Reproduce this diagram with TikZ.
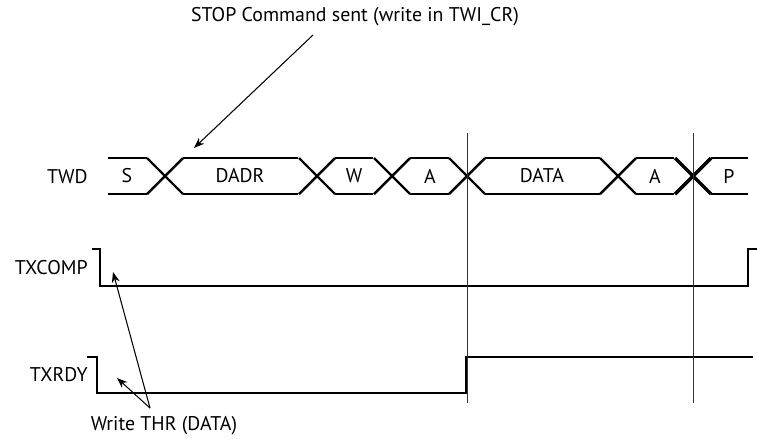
\documentclass[tikz,border=0pt]{standalone}
\usepackage{fontspec}
\setsansfont{PT Sans}
\usepackage{tikz}
\usetikzlibrary{arrows.meta, calc}

\begin{document}
\begin{tikzpicture}[x=0.02cm, y=-0.02cm]
    \tikzset{
        wave/.style={line width=1.4pt, line join=miter},
        bold cross/.style={line width=2pt},
        marker/.style={line width=0.5pt, draw=black!80},
        pointer/.style={line width=0.6pt, -{Stealth[length=6pt, width=4.5pt]}},
        sig label/.style={font=\sffamily\fontsize{11.3}{13}\selectfont, anchor=east, inner sep=0pt},
        bus label/.style={font=\sffamily\fontsize{11.3}{13}\selectfont, inner sep=0pt},
        note/.style={font=\sffamily\fontsize{11.3}{13}\selectfont, inner sep=0pt}
    }
    \useasboundingbox (0,0) rectangle (757,441);

    % signal names
    \node[sig label] (twd) at (88,177) {TWD};
    \node[sig label] (txcomp) at (88,268) {TXCOMP};
    \node[sig label] (txrdy) at (88,375) {TXRDY};

    % TWD bus
    \foreach \a/\b in {108/147, 183/298, 335/373, 410/449, 485/600, 636/674, 711/748} {
        \draw[wave] (\a,158) -- (\b,158);
        \draw[wave] (\a,194) -- (\b,194);
    }
    \foreach \c in {165, 317, 392, 467, 618} {
        \draw[wave] (\c-18,158) -- (\c+18,194);
        \draw[wave] (\c-18,194) -- (\c+18,158);
    }
    \draw[bold cross] (675,158) -- (711,194);
    \draw[bold cross] (675,194) -- (711,158);

    \node[bus label] (s) at (127,176) {S};
    \node[bus label] (dadr) at (240,176) {DADR};
    \node[bus label] (w) at (354,176) {W};
    \node[bus label] (a1) at (430,176) {A};
    \node[bus label] (data) at (542,176) {DATA};
    \node[bus label] (a2) at (655,176) {A};
    \node[bus label] (p) at (729,176) {P};

    % TXCOMP and TXRDY
    \draw[wave] (92,249) -| (100,286) -- (748,286) |- (757,249);
    \draw[wave] (87,357) -| (97,393) -- (466,393) |- (753,357);

    % markers
    \draw[marker] (467,133) -- (467,403);
    \draw[marker] (693,133) -- (693,403);

    % annotations
    \node[note] (stop) at (355,17) {STOP Command sent (write in TWI\_CR)};
    \coordinate (stop tail) at (313,35);
    \coordinate (stop head) at (194,148);
    \draw[pointer] (stop tail) -- (stop head);

    \node[note] (thr) at (164,426) {Write THR (DATA)};
    \coordinate (thr tail) at (150,408);
    \coordinate (comp head) at (113,272);
    \coordinate (rdy head) at (117,378);
    \draw[pointer] (thr tail) -- (comp head);
    \draw[pointer] (thr tail) -- (rdy head);
\end{tikzpicture}
\end{document}
